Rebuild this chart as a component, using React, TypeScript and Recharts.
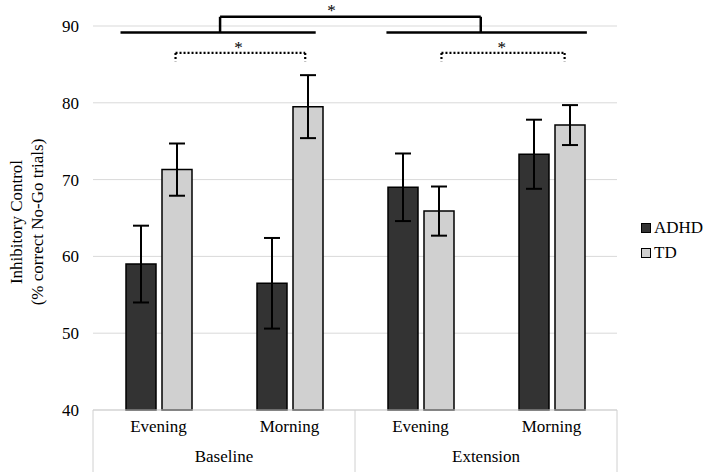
import React from 'react';
import { BarChart, Bar, XAxis, YAxis, CartesianGrid, ErrorBar, ReferenceLine, ReferenceDot, Legend } from 'recharts';

// values
const periods = ['Evening', 'Morning', 'Evening', 'Morning'];
const phases = ['Baseline', 'Extension'];
const adhd = [59.0, 56.5, 69.0, 73.3];
const adhdErr = [5.0, 5.9, 4.4, 4.5];
const td = [71.3, 79.5, 65.9, 77.1];
const tdErr = [3.4, 4.1, 3.2, 2.6];
const yTicks = [40, 50, 60, 70, 80, 90];

// significance marks, in (category position 0-4, value) units
const solidLines = [
    [[0.21, 89.15], [1.70, 89.15]],
    [[2.24, 89.15], [3.77, 89.15]],
];
const bigBracket = { x1: 0.97, x2: 2.96, top: 91.2, foot: 89.15 };
const dottedBrackets = [
    { x1: 0.63, x2: 1.62, top: 86.5, foot: 85.4 },
    { x1: 2.66, x2: 3.60, top: 86.5, foot: 85.4 },
];
const stars = [[1.82, 92.1], [1.11, 87.3], [3.12, 87.3]];

const data = periods.map((p, i) => ({
    period: p,
    pos: i + 0.5,
    adhd: adhd[i],
    adhdErr: adhdErr[i],
    td: td[i],
    tdErr: tdErr[i],
}));

const FONT = 'Liberation Serif';
const CAT_AXIS_H = 32;
const LEGEND_W = 68;

const GroupTick = (props: any) => {
    const { x, y, payload } = props;
    const v = payload.value;
    if (v % 2 === 0) {
        return <line x1={x} x2={x} y1={y - CAT_AXIS_H} y2={472} stroke="#d0d0d0" strokeWidth={1} />;
    }
    return (
        <text x={x} y={y + 20} textAnchor="middle" fontFamily={FONT} fontSize={17} fill="#000">
            {phases[(v - 1) / 2]}
        </text>
    );
};

const YLabel = (props: any) => {
    const { viewBox } = props;
    const cy = viewBox.y + viewBox.height / 2 + 4;
    return (
        <text transform={`rotate(-90, 0, ${cy})`} x={0} y={cy} textAnchor="middle" fontFamily={FONT} fontSize={17} fill="#000">
            <tspan x={0} dy={21.5}>Inhibitory Control</tspan>
            <tspan x={0} dy={21}>(% correct No-Go trials)</tspan>
        </text>
    );
};

const LegendBox = () => (
    <div style={{ fontFamily: FONT, fontSize: 17, color: '#000' }}>
        {[['ADHD', '#333333'], ['TD', '#d0d0d0']].map(([name, color]) => (
            <div key={name} style={{ display: 'flex', alignItems: 'center', height: 25 }}>
                <span style={{ display: 'inline-block', width: 8, height: 8, background: color, border: '1px solid #000', marginRight: 3 }} />
                {name}
            </div>
        ))}
    </div>
);

export default function App() {
    return (
        <div style={{ position: 'absolute', left: 0, top: 0, background: '#fff' }}>
            <BarChart
                width={709}
                height={472}
                data={data}
                margin={{ top: 26, right: 92 - LEGEND_W, left: 0, bottom: 0 }}
                barSize={30}
                barGap={6}
            >
                <CartesianGrid vertical={false} stroke="#d9d9d9" />
                <XAxis
                    dataKey="period"
                    height={CAT_AXIS_H}
                    tickLine={false}
                    tickSize={0}
                    tickMargin={10}
                    axisLine={{ stroke: '#d0d0d0' }}
                    tick={{ fill: '#000', fontSize: 17, fontFamily: FONT }}
                />
                <XAxis
                    xAxisId="n"
                    dataKey="pos"
                    type="number"
                    domain={[0, 4]}
                    allowDataOverflow={true}
                    ticks={[0, 1, 2, 3, 4]}
                    height={30}
                    tickSize={0}
                    tickMargin={0}
                    tickLine={false}
                    axisLine={false}
                    tick={<GroupTick />}
                    interval={0}
                />
                <YAxis
                    width={93}
                    domain={[40, 90]}
                    ticks={yTicks}
                    tickLine={false}
                    tickSize={0}
                    tickMargin={14}
                    axisLine={false}
                    tick={{ fill: '#000', fontSize: 17, fontFamily: FONT }}
                    label={<YLabel />}
                />
                <Legend
                    layout="vertical"
                    verticalAlign="top"
                    align="right"
                    content={<LegendBox />}
                    wrapperStyle={{ left: 641, top: 215, width: LEGEND_W }}
                />
                <Bar dataKey="adhd" name="ADHD" fill="#333333" stroke="#000" strokeWidth={1.5} isAnimationActive={false}>
                    <ErrorBar dataKey="adhdErr" width={8} stroke="#000" strokeWidth={2} />
                </Bar>
                <Bar dataKey="td" name="TD" fill="#d0d0d0" stroke="#000" strokeWidth={1.5} isAnimationActive={false}>
                    <ErrorBar dataKey="tdErr" width={8} stroke="#000" strokeWidth={2} />
                </Bar>

                {solidLines.map((s, i) => (
                    <ReferenceLine key={'s' + i} xAxisId="n" ifOverflow="visible" stroke="#000" strokeWidth={2.5}
                        segment={[{ x: s[0][0], y: s[0][1] }, { x: s[1][0], y: s[1][1] }]} />
                ))}
                <ReferenceLine xAxisId="n" ifOverflow="visible" stroke="#000" strokeWidth={2.5}
                    segment={[{ x: bigBracket.x1, y: bigBracket.top }, { x: bigBracket.x2, y: bigBracket.top }]} />
                <ReferenceLine xAxisId="n" ifOverflow="visible" stroke="#000" strokeWidth={2.5}
                    segment={[{ x: bigBracket.x1, y: bigBracket.top }, { x: bigBracket.x1, y: bigBracket.foot }]} />
                <ReferenceLine xAxisId="n" ifOverflow="visible" stroke="#000" strokeWidth={2.5}
                    segment={[{ x: bigBracket.x2, y: bigBracket.top }, { x: bigBracket.x2, y: bigBracket.foot }]} />
                {dottedBrackets.map((b, i) => (
                    <React.Fragment key={'d' + i}>
                        <ReferenceLine xAxisId="n" ifOverflow="visible" stroke="#000" strokeWidth={2.2} strokeDasharray="2 2"
                            segment={[{ x: b.x1, y: b.top }, { x: b.x2, y: b.top }]} />
                        <ReferenceLine xAxisId="n" ifOverflow="visible" stroke="#000" strokeWidth={2.2} strokeDasharray="2 2"
                            segment={[{ x: b.x1, y: b.top }, { x: b.x1, y: b.foot }]} />
                        <ReferenceLine xAxisId="n" ifOverflow="visible" stroke="#000" strokeWidth={2.2} strokeDasharray="2 2"
                            segment={[{ x: b.x2, y: b.top }, { x: b.x2, y: b.foot }]} />
                    </React.Fragment>
                ))}
                {stars.map((s, i) => (
                    <ReferenceDot key={'a' + i} xAxisId="n" x={s[0]} y={s[1]} r={0} ifOverflow="visible"
                        fill="none" stroke="none"
                        label={{ value: '*', position: 'center', fontSize: 17, fill: '#000', fontFamily: FONT }} />
                ))}
            </BarChart>
        </div>
    );
}
